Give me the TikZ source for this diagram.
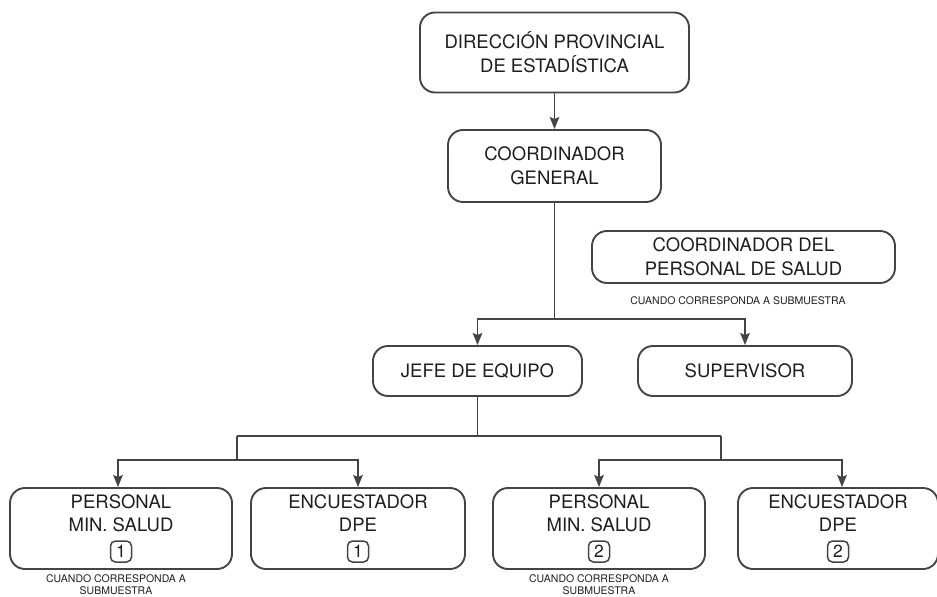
\documentclass[tikz,border=0pt]{standalone}
\usepackage{fontspec}
\setmainfont{TeX Gyre Heros}
\usetikzlibrary{arrows.meta}
\definecolor{wirec}{HTML}{444444}
\definecolor{txtc}{HTML}{1E1E1E}
\tikzstyle{box}=[draw=wirec,line width=1.9pt,rounded corners=15pt,align=center,text=txtc,font=\fontsize{18.5}{24}\selectfont,inner sep=0]
\tikzstyle{lowbox}=[box,font=\fontsize{18.5}{23}\selectfont,minimum height=81pt]
\tikzstyle{nb}=[draw=wirec,line width=1.5pt,rounded corners=5pt,minimum size=21pt,inner sep=0,text=txtc,font=\fontsize{17.5}{17.5}\selectfont]
\tikzstyle{note}=[align=center,text=txtc,font=\fontsize{10.5}{11.5}\selectfont,inner sep=0]
\tikzstyle{wire}=[draw=wirec,line width=1.9pt]
\tikzstyle{arr}=[wire,-{Stealth[length=12pt,width=9.5pt,inset=2pt]}]

\begin{document}
\begin{tikzpicture}[x=1pt,y=-1pt]
	 \useasboundingbox (0,0) rectangle (937,597);

                        \node[box,minimum width=269pt,minimum height=80pt] (dps) at (554.5,52.5) {DIRECCIÓN PROVINCIAL\\DE ESTADÍSTICA};
                        \node[box,minimum width=213pt,minimum height=72pt] (cg) at (554.5,166) {COORDINADOR\\GENERAL};
                        \node[box,minimum width=303pt,minimum height=52pt] (cps) at (743.5,257) {COORDINADOR DEL\\PERSONAL DE SALUD};
                        \node[note] (cpsn) at (738,301) {CUANDO CORRESPONDA A SUBMUESTRA};

                        \node[box,minimum width=209pt,minimum height=50pt] (jefe) at (477.5,371) {JEFE DE EQUIPO};
                        \node[box,minimum width=214pt,minimum height=50pt] (sup) at (745,371) {SUPERVISOR};

                        \node[lowbox,minimum width=222pt] (pms1) at (121,528.5) {PERSONAL\\MIN. SALUD\\\strut};
                        \node[lowbox,minimum width=214pt] (enc1) at (358,528.5) {ENCUESTADOR\\DPE\\\strut};
                        \node[lowbox,minimum width=212pt] (pms2) at (599,528.5) {PERSONAL\\MIN. SALUD\\\strut};
                        \node[lowbox,minimum width=200pt] (enc2) at (838,528.5) {ENCUESTADOR\\DPE\\\strut};

                        \node[nb] (pms1n) at ([yshift=-23pt]pms1.center) {1};
                        \node[nb] (enc1n) at ([yshift=-23pt]enc1.center) {1};
                        \node[nb] (pms2n) at ([yshift=-23pt]pms2.center) {2};
                        \node[nb] (enc2n) at ([yshift=-23pt]enc2.center) {2};

                        \node[note] (pms1s) at (116,584.5) {CUANDO CORRESPONDA A\\SUBMUESTRA};
                        \node[note] (pms2s) at (599,584.5) {CUANDO CORRESPONDA A\\SUBMUESTRA};

                        \coordinate (cgb) at (554.5,319);
                        \coordinate (jb) at (477.5,436);
                        \coordinate (lb) at (237,436);
                        \coordinate (rb) at (721,436);
                        \coordinate (lb2) at (237,460);
                        \coordinate (rb2) at (721,460);

                        \draw[wire]
                        (cg) -- (cgb)
                        (jefe) -- (jb)
                        (lb) -- (rb)
                        (lb) -- (lb2)
                        (rb) -- (rb2)
                        ;

                        \draw[arr] (dps) -- (cg);
                        \draw[arr] (cgb) -| (jefe.north);
                        \draw[arr] (cgb) -| (sup.north);
                        \draw[arr] (lb2) -| ([xshift=-3pt]pms1.north);
                        \draw[arr] (lb2) -| (enc1.north);
                        \draw[arr] (rb2) -| (pms2.north);
                        \draw[arr] (rb2) -| ([xshift=4pt]enc2.north);

    \end{tikzpicture}
\end{document}
